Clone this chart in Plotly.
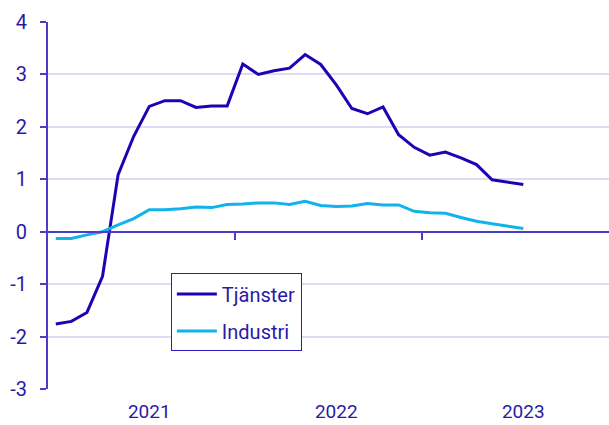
import plotly.graph_objects as go

# monthly values, Jan 2021 - Jul 2023
months = list(range(31))
tjanster = [-1.76, -1.71, -1.54, -0.85, 1.09, 1.82, 2.39, 2.50, 2.50, 2.37, 2.40, 2.40,
            3.20, 3.00, 3.07, 3.12, 3.38, 3.19, 2.80, 2.35, 2.25, 2.38, 1.85, 1.61,
            1.46, 1.52, 1.41, 1.28, 0.99, 0.94, 0.90]
industri = [-0.13, -0.13, -0.06, 0.00, 0.13, 0.25, 0.42, 0.42, 0.44, 0.47, 0.46, 0.52,
            0.53, 0.55, 0.55, 0.52, 0.58, 0.50, 0.48, 0.49, 0.54, 0.51, 0.51, 0.39,
            0.36, 0.35, 0.27, 0.20, 0.15, 0.10, 0.06]
year_labels = ["2021", "2022", "2023"]
year_label_pos = [6, 18, 30]      # July of each year
year_breaks = [11.5, 23.5]        # between Dec and Jan
y_ticks = [-3, -2, -1, 0, 1, 2, 3, 4]
y_labels = ["-3", "-2", "-1", "0", "1", "2", "3", "4"]

text_col = "#2a1aa8"
axis_col = "#4b3bc8"
grid_col = "#dcdcf2"
xr = [-0.5, 35.5]

fig = go.Figure()
fig.add_trace(go.Scatter(x=months, y=tjanster, name="Tjänster", mode="lines",
                         legendgroup="a",
                         line=dict(color="#2200b4", width=3)))
fig.add_trace(go.Scatter(x=months, y=industri, name="Industri", mode="lines",
                         legendgroup="b",
                         line=dict(color="#12b2ea", width=3), xaxis="x2"))

fig.update_layout(
    width=609, height=425,
    margin=dict(l=48, r=0, t=22, b=36),
    paper_bgcolor="white", plot_bgcolor="white",
    font=dict(family="Roboto", size=20, color=text_col),
    xaxis=dict(range=xr, tickvals=year_label_pos, ticktext=year_labels,
               showgrid=False, zeroline=False, showline=False, automargin=False,
               ticks="", ticklabelstandoff=9, tickfont=dict(size=19)),
    xaxis2=dict(range=xr, overlaying="x", anchor="free", position=3 / 7,
                tickvals=year_breaks, showticklabels=False, ticks="outside",
                ticklen=7, tickwidth=2, tickcolor=axis_col,
                showline=True, linecolor=axis_col, linewidth=2,
                showgrid=False, zeroline=False),
    yaxis=dict(range=[-3, 4], tickvals=y_ticks, ticktext=y_labels, automargin=False,
               showgrid=True, gridcolor=grid_col, gridwidth=2,
               zeroline=False, showline=True, linecolor=axis_col, linewidth=2,
               ticks="outside", ticklen=6, tickwidth=2, tickcolor=axis_col,
               ticklabelstandoff=9, tickfont=dict(size=20)),
    legend=dict(x=0.219, y=0.315, xanchor="left", yanchor="top",
                bgcolor="white", bordercolor="#2a1ac0", borderwidth=1,
                font=dict(size=20, color=text_col),
                traceorder="grouped", tracegroupgap=8,
                itemwidth=40),
    showlegend=True,
)

fig.write_html("out.html", config={"displayModeBar": False},
               post_script="document.body.style.margin='0';")
